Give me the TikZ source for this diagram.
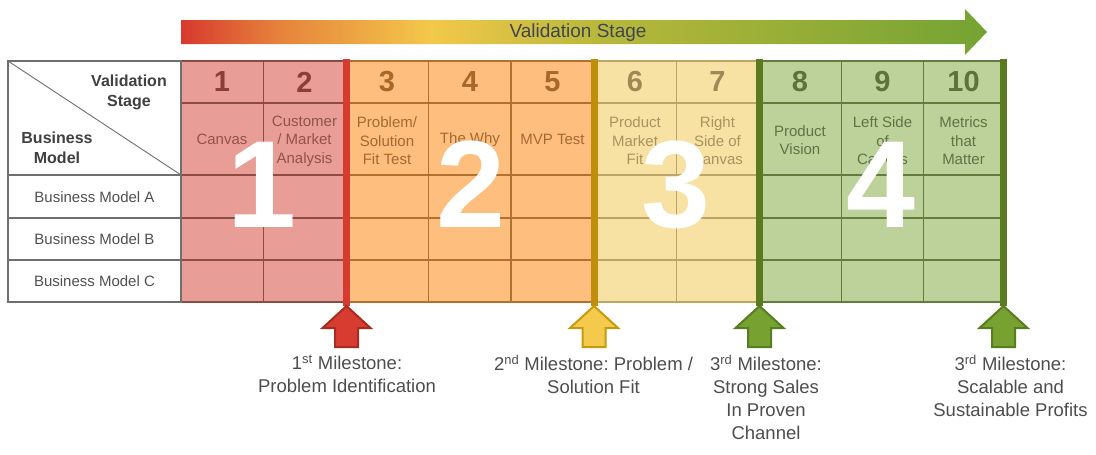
\documentclass[tikz,border=0pt]{standalone}
\usepackage{fontspec}
\setmainfont{Liberation Sans}
\frenchspacing
\definecolor{gA}{HTML}{D8392E}
\definecolor{gB}{HTML}{E6823B}
\definecolor{gC}{HTML}{F3C84A}
\definecolor{gD}{HTML}{B8B83A}
\definecolor{gE}{HTML}{74A333}
\pgfdeclarehorizontalshading{valgrad}{100bp}{color(0bp)=(gA); color(25bp)=(gA); color(31bp)=(gB); color(40.5bp)=(gC); color(51bp)=(gD); color(75bp)=(gE); color(100bp)=(gE)}
\definecolor{redF}{HTML}{E99D97}
\definecolor{redL}{HTML}{8E4B45}
\definecolor{redT}{HTML}{93524C}
\definecolor{redN}{HTML}{8B3E37}
\definecolor{oraF}{HTML}{FDBE7E}
\definecolor{oraL}{HTML}{B3712F}
\definecolor{oraT}{HTML}{A46A33}
\definecolor{oraN}{HTML}{A8672B}
\definecolor{yelF}{HTML}{F8E2A3}
\definecolor{yelL}{HTML}{BCA566}
\definecolor{yelT}{HTML}{A8945F}
\definecolor{yelN}{HTML}{9D8956}
\definecolor{grnF}{HTML}{BCD29A}
\definecolor{grnL}{HTML}{617C3B}
\definecolor{grnT}{HTML}{5F7346}
\definecolor{grnN}{HTML}{5D723C}
\definecolor{sepR}{HTML}{D73A2F}
\definecolor{sepY}{HTML}{BF8E0B}
\definecolor{sepG}{HTML}{5A7A20}
\definecolor{arrRF}{HTML}{D83C30}
\definecolor{arrRD}{HTML}{A62C22}
\definecolor{arrYF}{HTML}{F4C94C}
\definecolor{arrYD}{HTML}{C49B0C}
\definecolor{arrGF}{HTML}{77A232}
\definecolor{arrGD}{HTML}{587C20}
\definecolor{lbl}{HTML}{4D4D4D}
\definecolor{hdr}{HTML}{404040}
\definecolor{rowT}{HTML}{505050}
\definecolor{gridG}{HTML}{6F6F6F}
\definecolor{vsT}{HTML}{404555}
\tikzset{
  cell/.style={font=\fontsize{15}{18.5}\selectfont, align=center, inner sep=0pt},
  num/.style={font=\fontsize{29}{30}\selectfont\bfseries, inner sep=0pt},
  bignum/.style={font=\fontsize{124}{124}\selectfont\bfseries, text=white, inner sep=0pt, anchor=base},
  mslabel/.style={font=\fontsize{18.5}{23}\selectfont, text=lbl, align=center, inner sep=0pt, anchor=north},
  msarrow/.style={line width=2pt, line join=miter},
  sepline/.style={line width=7pt},
  gridline/.style={line width=1.4pt},
  hdrtext/.style={font=\fontsize{16}{20}\selectfont\bfseries, text=hdr, align=center, inner sep=0pt},
  rowtext/.style={font=\fontsize{15}{18}\selectfont, text=rowT, inner sep=0pt},
}
\begin{document}
\begin{tikzpicture}[x=1pt,y=-1pt]
\useasboundingbox (0,0) rectangle (1096,455);
% top arrow
\shade[shading=valgrad] (181,20) -- (965,20) -- (965,9) -- (987,32) -- (965,55) -- (965,44) -- (181,44) -- cycle;
\node[font=\fontsize{19}{20}\selectfont, text=vsT, inner sep=0pt] (vs) at (578,33) {Validation Stage};
% zone fills
\fill[redF] (181,61) rectangle (346,302);
\fill[oraF] (346,61) rectangle (594,302);
\fill[yelF] (594,61) rectangle (759,302);
\fill[grnF] (759,61) rectangle (1004,302);
% zone grids
\draw[gridline, redL] (181,61) rectangle (346,302) (263.5,61) -- (263.5,302);
\draw[gridline, oraL] (346,61) rectangle (594,302) (428.5,61) -- (428.5,302) (511,61) -- (511,302);
\draw[gridline, yelL] (594,61) rectangle (759,302) (676.5,61) -- (676.5,302);
\draw[gridline, grnL] (759,61) rectangle (1004,302) (841.5,61) -- (841.5,302) (923.5,61) -- (923.5,302);
\foreach \y in {103,175,218,260} {
  \draw[gridline, redL] (181,\y) -- (346,\y);
  \draw[gridline, oraL] (346,\y) -- (594,\y);
  \draw[gridline, yelL] (594,\y) -- (759,\y);
  \draw[gridline, grnL] (759,\y) -- (1004,\y);
}
% left header
\draw[gridline, gridG] (8,61) rectangle (181,302);
\foreach \y in {175,218,260} \draw[gridline, gridG] (8,\y) -- (181,\y);
\draw[line width=0.9pt, gridG] (8,61) -- (181,175);
\node[hdrtext] (vsh) at (129,92.5) {Validation\\Stage};
\node[hdrtext] (bm) at (57,147.5) {Business\\Model};
\node[rowtext] (ra) at (94.5,197) {Business Model A};
\node[rowtext] (rb) at (94.5,239) {Business Model B};
\node[rowtext] (rc) at (94.5,281) {Business Model C};
% stage numbers
\node[num, text=redN] (n1) at (222,82) {1};
\node[num, text=redN] (n2) at (304.5,82) {2};
\node[num, text=oraN] (n3) at (387,82) {3};
\node[num, text=oraN] (n4) at (470,82) {4};
\node[num, text=oraN] (n5) at (552.5,82) {5};
\node[num, text=yelN] (n6) at (635,82) {6};
\node[num, text=yelN] (n7) at (717.5,82) {7};
\node[num, text=grnN] (n8) at (800,82) {8};
\node[num, text=grnN] (n9) at (882.5,82) {9};
\node[num, text=grnN] (n10) at (963.5,82) {10};
% stage labels
\node[cell, text=redT] (c1) at (222,139.5) {Canvas};
\node[cell, text=redT] (c2) at (304.5,141) {Customer\\/ Market\\Analysis};
\node[cell, text=oraT] (c3) at (387,141) {Problem/\\Solution\\Fit Test};
\node[cell, text=oraT] (c4) at (470,139.5) {The Why};
\node[cell, text=oraT] (c5) at (552.5,139.5) {MVP Test};
\node[cell, text=yelT] (c6) at (635,141) {Product\\Market\\Fit};
\node[cell, text=yelT] (c7) at (717.5,141) {Right\\Side of\\Canvas};
\node[cell, text=grnT] (c8) at (800,140) {Product\\Vision};
\node[cell, text=grnT] (c9) at (882.5,141) {Left Side\\of\\Canvas};
\node[cell, text=grnT] (c10) at (963.5,141) {Metrics\\that\\Matter};
% big phase digits
\node[bignum] (p1) at (262,227) {1};
\node[bignum] (p2) at (471,227) {2};
\node[bignum] (p3) at (676,227) {3};
\node[bignum] (p4) at (881,227) {4};
% separators
\coordinate (m1) at (346.5,306);
\coordinate (m2) at (594,306);
\coordinate (m3) at (759.5,306);
\coordinate (m4) at (1003.5,306);
\draw[sepline, sepR] (346.5,59) -- (m1);
\draw[sepline, sepY] (594,59) -- (m2);
\draw[sepline, sepG] (759.5,59) -- (m3);
\draw[sepline, sepG] (1003.5,59) -- (m4);
% milestone arrows
\draw[msarrow, draw=arrRD, fill=arrRF] (m1) -- ++(24,22) -- ++(-12.5,0) -- ++(0,19) -- ++(-23,0) -- ++(0,-19) -- ++(-12.5,0) -- cycle;
\draw[msarrow, draw=arrYD, fill=arrYF] (m2) -- ++(24,22) -- ++(-12.5,0) -- ++(0,19) -- ++(-23,0) -- ++(0,-19) -- ++(-12.5,0) -- cycle;
\draw[msarrow, draw=arrGD, fill=arrGF] (m3) -- ++(24,22) -- ++(-12.5,0) -- ++(0,19) -- ++(-23,0) -- ++(0,-19) -- ++(-12.5,0) -- cycle;
\draw[msarrow, draw=arrGD, fill=arrGF] (m4) -- ++(24,22) -- ++(-12.5,0) -- ++(0,19) -- ++(-23,0) -- ++(0,-19) -- ++(-12.5,0) -- cycle;
% milestone labels
\node[mslabel] (l1) at (347,355) {\rule{0pt}{14pt}1\textsuperscript{st} Milestone:\\Problem Identification};
\node[mslabel] (l2) at (593.5,355) {\rule{0pt}{14pt}2\textsuperscript{nd} Milestone: Problem /\\Solution Fit};
\node[mslabel] (l3) at (766,355) {\rule{0pt}{14pt}3\textsuperscript{rd} Milestone:\\Strong Sales\\In Proven\\Channel};
\node[mslabel] (l4) at (1010.5,355) {\rule{0pt}{14pt}3\textsuperscript{rd} Milestone:\\Scalable and\\Sustainable Profits};
\end{tikzpicture}
\end{document}
